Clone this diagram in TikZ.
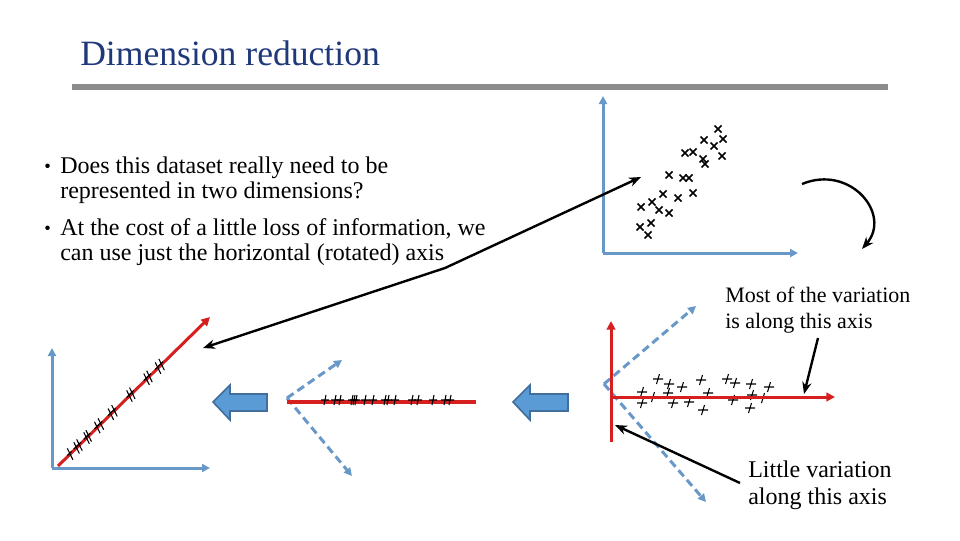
\documentclass[tikz,border=0pt]{standalone}
\usepackage{fontspec}
\setmainfont{Liberation Serif}
\usetikzlibrary{arrows.meta}

\definecolor{titleblue}{RGB}{31,56,122}
\definecolor{axisblue}{RGB}{104,152,200}
\definecolor{pcred}{RGB}{214,32,32}
\definecolor{rulegray}{RGB}{140,140,140}
\definecolor{blockfill}{RGB}{91,155,213}
\definecolor{blockdraw}{RGB}{65,110,155}

\begin{document}
\begin{tikzpicture}[
  x=0.75pt, y=-0.75pt,
  axis/.style={axisblue, line width=2.25pt, -{Triangle[length=6pt,width=6pt]}},
  newaxis/.style={axisblue, line width=2.25pt, dash pattern=on 6pt off 3.5pt, -{Triangle[length=6pt,width=6pt]}},
  pcaxis/.style={pcred, line width=2.25pt, -{Triangle[length=6.5pt,width=6.5pt]}},
  pcline/.style={pcred, line width=2.6pt},
  callout/.style={black, line width=1.8pt, -{Stealth[length=9pt,width=7pt]}},
  txt/.style={anchor=base west, inner sep=0pt, align=left},
  bigarrow/.style={fill=blockfill, draw=blockdraw, line width=1.2pt, line join=miter},
  xmk/.style={line width=1.1pt},
  pmk/.style={line width=0.8pt},
]
\useasboundingbox (0,0) rectangle (960,540);

% Title
\node[txt, text=titleblue, font=\fontsize{26.7}{32}\selectfont] (title) at (80,65) {Dimension reduction};
\draw[rulegray, line width=4.5pt] (72,87) -- (888,87);

% Bullets (base = last line)
\node[txt, font=\fontsize{14}{16}\selectfont] (dot1) at (44,172) {\textbullet};
\node[txt, font=\fontsize{18}{18.75}\selectfont] (b1) at (60,198) {Does this dataset really need to be\\represented in two dimensions?};
\node[txt, font=\fontsize{14}{16}\selectfont] (dot2) at (44,234) {\textbullet};
\node[txt, font=\fontsize{18}{18.75}\selectfont] (b2) at (60,260) {At the cost of a little loss of information, we\\can use just the horizontal (rotated) axis};

% Original data
\draw[axis] (603,253) -- (603,96);
\draw[axis] (603,253) -- (798,253);
\foreach \px/\py in {718/129, 704/140, 723/139, 714/146, 685/153, 693/152, 703/159, 705/164, 722/156,
  669/175, 683/178, 689/178, 693/193, 663/194, 678/198, 652/202, 641/207, 659/210, 669/213,
  651/223, 640/227, 648/235}
  \draw[xmk] (\px,\py) ++(-3.5,-3.5) -- ++(7,7) ++(-7,0) -- ++(7,-7);

% Rotation
\coordinate (rotfrom) at (802,184);
\coordinate (rotto) at (862,249);
\draw[callout] (rotfrom) .. controls (850,164) and (892,214) .. (rotto);

% Rotated data (right)
\draw[newaxis] (604,384) -- (696,306);
\draw[newaxis] (604,384) -- (706,502);
\draw[pcaxis] (611,442) -- (611,321);
\foreach \px/\py in {642/392, 642/403, 658/379, 669/384, 668/393, 653/397, 673/403, 682/387,
  689/402, 701/380, 708/393, 703/410, 727/379, 735/383, 733/400, 751/384, 752/395, 750/408,
  769/387, 763/398}
  \draw[pmk] (\px,\py) ++(-5,0) -- ++(10,0) ++(-3.5,-5) -- ++(-3,10);
\draw[pcaxis] (611,397) -- (835,397);

% Projected data (middle)
\draw[newaxis] (287,398) -- (342,360);
\draw[newaxis] (287,398) -- (352,476);
\draw[pcline] (287,402) -- (476,402);
\foreach \px in {325,335,340,352,354,356,365,373,385,388,395,412,418,433,445,450}
  \draw[pmk] (\px,400) ++(-4,0) -- ++(8,0) ++(-3,-5) -- ++(-2,10);

% Back in the original axes (left)
\draw[axis] (52,468) -- (52,348);
\draw[axis] (52,468) -- (210,468);
\draw[pcaxis] (58,466) -- (210,317);
\begin{scope}[shift={(58,466)}, rotate=44.4]
  \foreach \s in {17,26,30,40,43,55,60,74,79,100,104,124,128,140,145}
    \draw[pmk] (\s+2,-6) -- (\s-2,6) (\s-3,-1) -- (\s+3,-1);
\end{scope}

% Steps
\draw[bigarrow] (213,402) -- (230,385) -- (230,394) -- (267,394) -- (267,411) -- (230,411) -- (230,420) -- cycle;
\draw[bigarrow] (513,402) -- (530,385) -- (530,394) -- (568,394) -- (568,411) -- (530,411) -- (530,420) -- cycle;

% Callouts
\node[txt, font=\fontsize{16.5}{19.5}\selectfont] (most) at (725,328) {Most of the variation\\is along this axis};
\node[txt, font=\fontsize{18}{20.25}\selectfont] (little) at (748,504) {Little variation\\along this axis};
\coordinate (axisword) at (445,268);
\coordinate (cloud) at (641,177);
\coordinate (newline) at (203,348);
\coordinate (mostfrom) at (818,338);
\coordinate (mostto) at (804,394);
\coordinate (littlefrom) at (740,483);
\coordinate (littleto) at (615,425);
\draw[callout] (axisword) -- (cloud);
\draw[callout] (axisword) -- (newline);
\draw[callout] (mostfrom) -- (mostto);
\draw[callout] (littlefrom) -- (littleto);
\end{tikzpicture}
\end{document}
